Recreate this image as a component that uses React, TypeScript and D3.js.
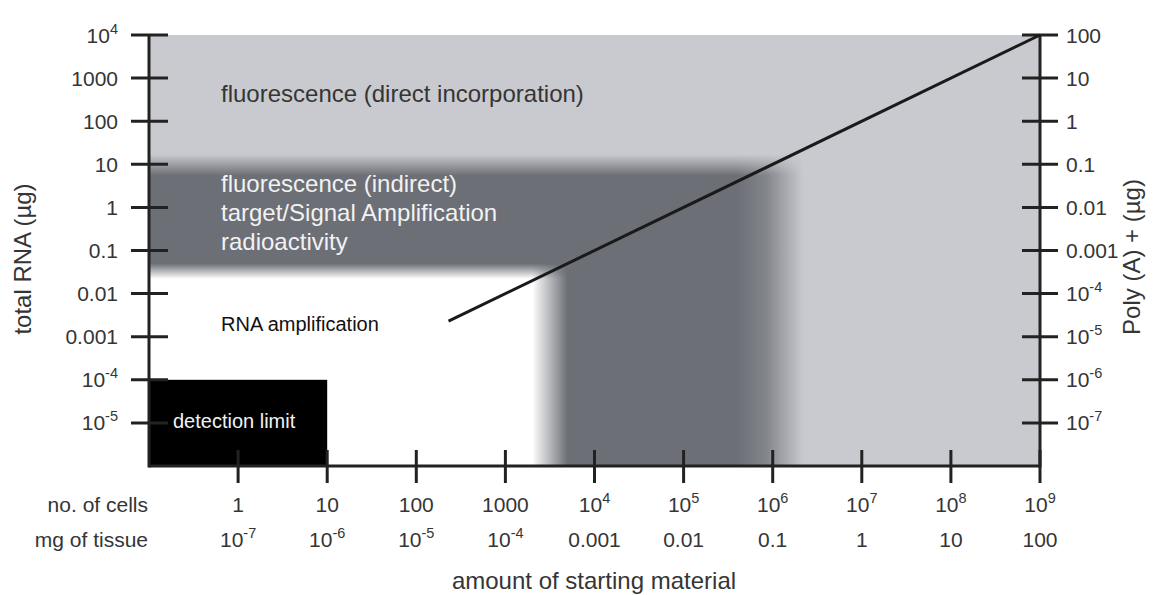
import { useEffect } from "react";
import * as d3 from "d3";

// number of cells (bottom axis, row 1) and mg of tissue (row 2)
const cellTicks = [1, 10, 100, 1000, 1e4, 1e5, 1e6, 1e7, 1e8, 1e9];
const cellLabels = ["1", "10", "100", "1000", "10^4", "10^5", "10^6", "10^7", "10^8", "10^9"];
const tissueLabels = ["10^-7", "10^-6", "10^-5", "10^-4", "0.001", "0.01", "0.1", "1", "10", "100"];

// total RNA (left axis) and Poly(A)+ (right axis)
const rnaTicks = [1e4, 1000, 100, 10, 1, 0.1, 0.01, 0.001, 1e-4, 1e-5];
const rnaLabels = ["10^4", "1000", "100", "10", "1", "0.1", "0.01", "0.001", "10^-4", "10^-5"];
const polyLabels = ["100", "10", "1", "0.1", "0.01", "0.001", "10^-4", "10^-5", "10^-6", "10^-7"];

// RNA yield line: ~10 pg total RNA per cell
const yieldCells = [230, 1e9];
const yieldRna = [0.0023, 1e4];

// soft region edges (start, end of the fade)
const directEdgeRna = [17, 5.5]; // light -> dark
const indirectEdgeRna = [0.05, 0.022]; // dark -> white
const amplifEdgeCells = [2000, 5000]; // white -> dark
const indirectEdgeCells = [4e5, 2.2e6]; // dark -> light

// detection limit box
const detectCells = [0.1, 10];
const detectRna = [1e-6, 1e-4];

const FONT = "'Liberation Sans', Arial, Helvetica, sans-serif";
const LIGHT = "#c9cacf";
const DARK = "#6c6f76";
const INK = "#222";
const TXT = "#353535";

const x = d3.scaleLog().domain([0.1, 1e9]).range([149, 1040]);
const y = d3.scaleLog().domain([1e-6, 1e4]).range([466, 35]);

function Sup({ label, ...rest }: any) {
  const [base, sup] = label.split("^");
  return (
    <text {...rest}>
      {base}
      {sup && (
        <tspan dy={-9} fontSize={14.5}>
          {sup}
        </tspan>
      )}
    </text>
  );
}

export default function App() {
  useEffect(() => {
    document.body.style.margin = "0";
  }, []);

  const [x0, x1] = x.range();
  const [yb, yt] = y.range();

  const line = d3
    .line<number>()
    .x((_, i) => x(yieldCells[i]))
    .y((_, i) => y(yieldRna[i]));

  const darkRight = x(indirectEdgeCells[1]);
  const whiteRight = x(amplifEdgeCells[1]);
  const darkTop = y(directEdgeRna[0]);
  const whiteTop = y(indirectEdgeRna[0]);

  return (
    <svg width={1160} height={595} style={{ display: "block", background: "#fff" }} fontFamily={FONT}>
      <defs>
        <linearGradient id="darkH" gradientUnits="userSpaceOnUse" x1={x(indirectEdgeCells[0])} x2={darkRight} y1={0} y2={0}>
          <stop offset="0" stopColor={DARK} stopOpacity={1} />
          <stop offset="0.45" stopColor={DARK} stopOpacity={0.75} />
          <stop offset="1" stopColor={DARK} stopOpacity={0} />
        </linearGradient>
        <linearGradient id="darkV" gradientUnits="userSpaceOnUse" x1={0} x2={0} y1={darkTop} y2={y(directEdgeRna[1])}>
          <stop offset="0" stopColor="#000" />
          <stop offset="1" stopColor="#fff" />
        </linearGradient>
        <mask id="darkMask" maskUnits="userSpaceOnUse" x={0} y={0} width={1160} height={595}>
          <rect x={x0} y={darkTop} width={darkRight - x0} height={yb - darkTop} fill="url(#darkV)" />
        </mask>
        <linearGradient id="whiteH" gradientUnits="userSpaceOnUse" x1={x(amplifEdgeCells[0])} x2={whiteRight} y1={0} y2={0}>
          <stop offset="0" stopColor="#fff" stopOpacity={1} />
          <stop offset="1" stopColor="#fff" stopOpacity={0} />
        </linearGradient>
        <linearGradient id="whiteV" gradientUnits="userSpaceOnUse" x1={0} x2={0} y1={whiteTop} y2={y(indirectEdgeRna[1])}>
          <stop offset="0" stopColor="#000" />
          <stop offset="1" stopColor="#fff" />
        </linearGradient>
        <mask id="whiteMask" maskUnits="userSpaceOnUse" x={0} y={0} width={1160} height={595}>
          <rect x={x0} y={whiteTop} width={whiteRight - x0} height={yb - whiteTop} fill="url(#whiteV)" />
        </mask>
      </defs>

      {/* method regions */}
      <rect x={x0} y={yt} width={x1 - x0} height={yb - yt} fill={LIGHT} />
      <rect x={x0} y={darkTop} width={darkRight - x0} height={yb - darkTop} fill="url(#darkH)" mask="url(#darkMask)" />
      <rect x={x0} y={whiteTop} width={whiteRight - x0} height={yb - whiteTop} fill="url(#whiteH)" mask="url(#whiteMask)" />

      {/* detection limit */}
      <rect
        x={x(detectCells[0])}
        y={y(detectRna[1])}
        width={x(detectCells[1]) - x(detectCells[0])}
        height={y(detectRna[0]) - y(detectRna[1])}
        fill="#000"
      />

      {/* axes */}
      <g stroke={INK} strokeWidth={3}>
        <line x1={x0} x2={x0} y1={yt} y2={yb + 1.5} />
        <line x1={x1} x2={x1} y1={yt} y2={yb + 1.5} />
        <line x1={x0} x2={x1} y1={yb} y2={yb} />
        {rnaTicks.map((t) => (
          <line key={"l" + t} x1={x0 - 18} x2={x0 + 19} y1={y(t)} y2={y(t)} />
        ))}
        {rnaTicks.map((t) => (
          <line key={"r" + t} x1={x1 - 18} x2={x1 + 18} y1={y(t)} y2={y(t)} />
        ))}
        {cellTicks.map((t) => (
          <line key={"b" + t} x1={x(t)} x2={x(t)} y1={yb - 16} y2={yb + 17} />
        ))}
      </g>

      {/* yield line */}
      <path d={line(yieldCells) ?? ""} fill="none" stroke="#1a1a1a" strokeWidth={3} />

      {/* tick labels */}
      <g fontSize={21} fill={TXT}>
        {rnaTicks.map((t, i) => (
          <Sup key={"ll" + t} label={rnaLabels[i]} x={118} y={y(t) + 7.5} textAnchor="end" />
        ))}
        {rnaTicks.map((t, i) => (
          <Sup key={"rl" + t} label={polyLabels[i]} x={1066} y={y(t) + 7.5} textAnchor="start" />
        ))}
        {cellTicks.map((t, i) => (
          <Sup key={"c" + t} label={cellLabels[i]} x={x(t)} y={512} textAnchor="middle" />
        ))}
        {cellTicks.map((t, i) => (
          <Sup key={"m" + t} label={tissueLabels[i]} x={x(t)} y={547} textAnchor="middle" />
        ))}
        <text x={148} y={512} textAnchor="end">no. of cells</text>
        <text x={148} y={547} textAnchor="end">mg of tissue</text>
      </g>

      {/* axis titles */}
      <g fontSize={24} fill={TXT}>
        <text x={594} y={589} textAnchor="middle">amount of starting material</text>
        <text transform="translate(31,259) rotate(-90)" textAnchor="middle">total RNA (µg)</text>
        <text transform="translate(1140,257) rotate(-90)" textAnchor="middle">Poly (A) + (µg)</text>
      </g>

      {/* region labels */}
      <g fontSize={24}>
        <text x={221} y={102} fill={TXT}>fluorescence (direct incorporation)</text>
        <text x={221} y={192} fill="#f2f2f2">fluorescence (indirect)</text>
        <text x={221} y={221} fill="#f2f2f2">target/Signal Amplification</text>
        <text x={221} y={250} fill="#f2f2f2">radioactivity</text>
      </g>
      <text x={221} y={331} fontSize={20} fill="#111">RNA amplification</text>
      <text x={173} y={428} fontSize={20} fill="#f2f2f2">detection limit</text>
    </svg>
  );
}
